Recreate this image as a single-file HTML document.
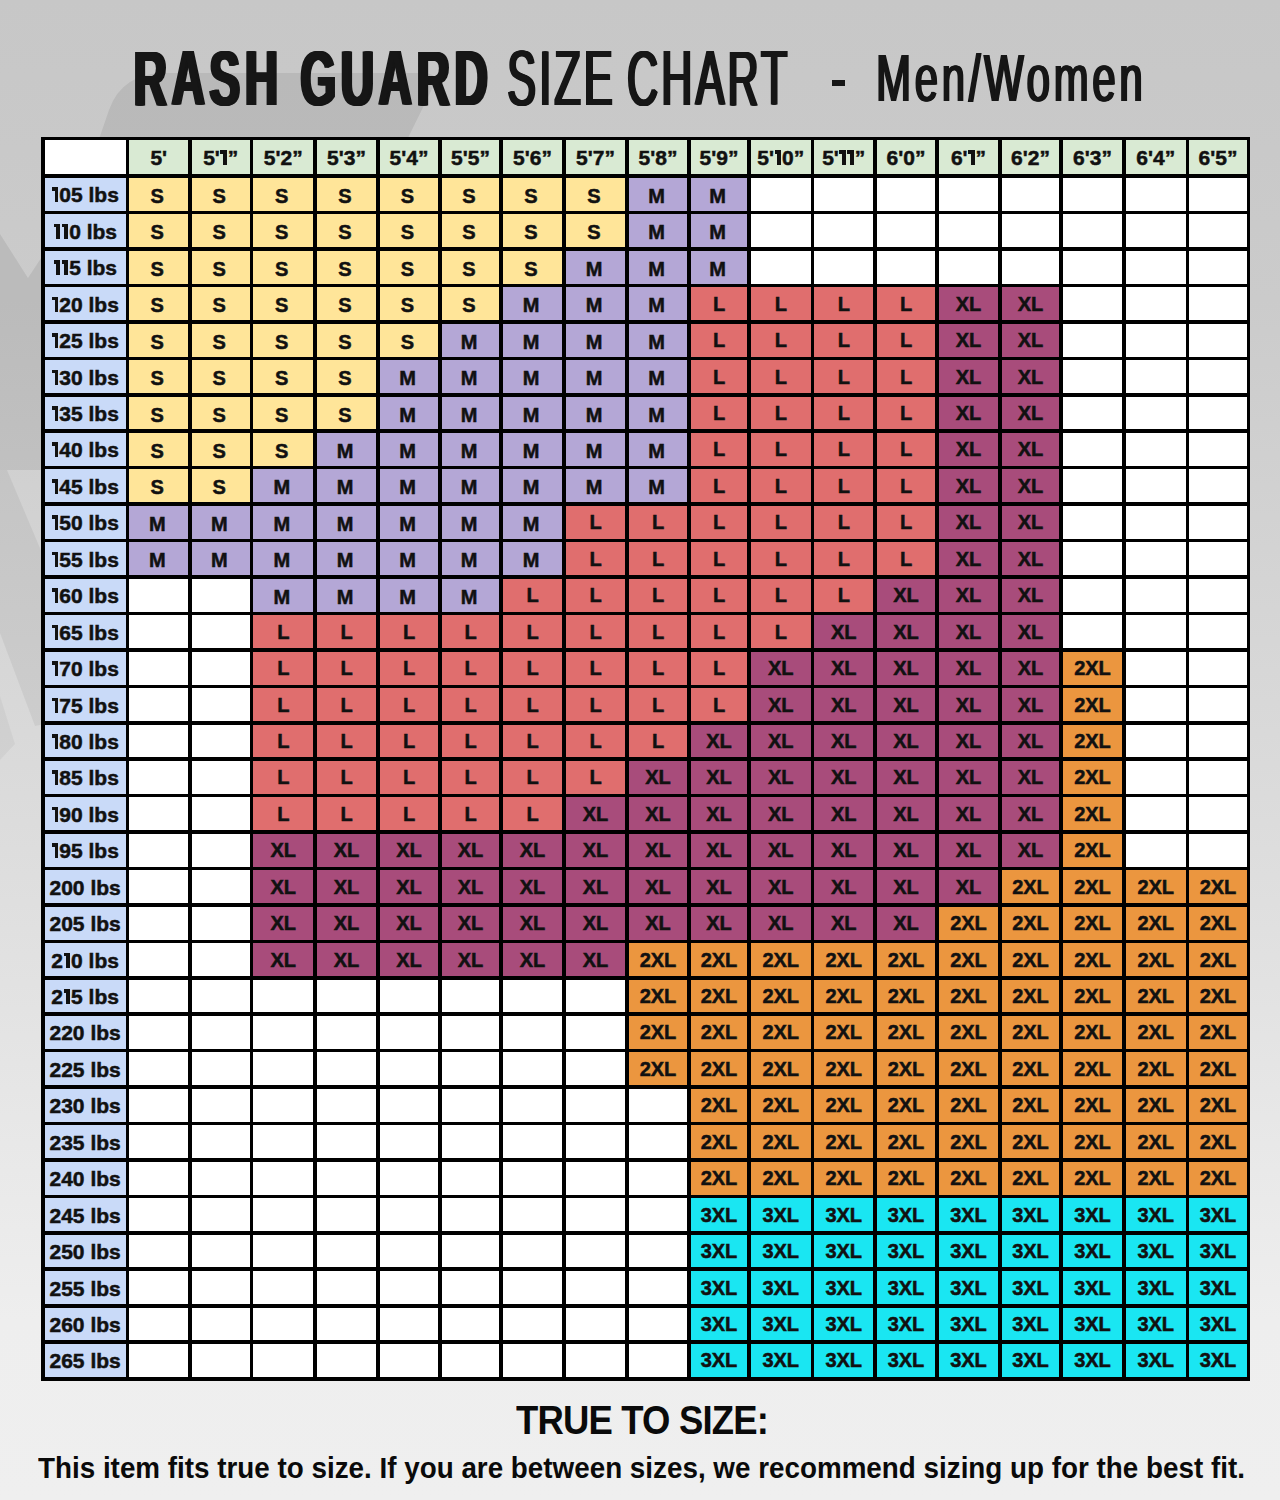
<!DOCTYPE html>
<html><head><meta charset="utf-8">
<style>
html,body{margin:0;padding:0;}
body{width:1280px;height:1500px;overflow:hidden;position:relative;
 background:linear-gradient(to bottom,#c7c7c7 0%,#cbcbcb 20%,#dbdbdb 53%,#e9e9e9 78%,#eeeeee 88%,#efefef 100%);
 font-family:"Liberation Sans",sans-serif;color:#111;}
.c{position:absolute;box-sizing:border-box;display:flex;align-items:center;justify-content:center;font-weight:bold;white-space:nowrap;}
.h{font-size:21px;padding-top:2px;-webkit-text-stroke:0.5px #111;}
.w{font-size:21px;padding-top:2px;-webkit-text-stroke:0.5px #111;}
.d{font-size:20px;padding-top:1px;-webkit-text-stroke:0.5px #111;}
.sm{padding-right:3px;padding-top:4px !important;}
.one{display:inline-block;width:8px;height:15px;position:relative;vertical-align:baseline;}
.one::before{content:"";position:absolute;right:1px;top:0;bottom:0;width:3.8px;background:#111;}
.one::after{content:"";position:absolute;right:4.5px;top:0;width:3px;height:3.6px;background:#111;}
.lv{position:absolute;width:3.6px;background:#000;}
.lh{position:absolute;height:3.6px;background:#000;}
.t{position:absolute;white-space:nowrap;line-height:1;transform-origin:0 0;}
</style></head><body>
<svg id="wm" width="1280" height="1500" style="position:absolute;left:0;top:0">
<path d="M98,142 L109,110 Q122,73 165,73 L422,73 Q440,73 433,87 L406,142 Z" fill="#000" fill-opacity="0.075"/>
<path d="M0,234 L28,278 L45,252 L45,470 L0,470 Z" fill="#000" fill-opacity="0.075"/>
<path d="M0,470 L7,470 L45,560 L45,724 L35,726 L0,633 Z" fill="#000" fill-opacity="0.055"/>
<path d="M0,696 L15,744 L0,760 Z" fill="#000" fill-opacity="0.04"/>
</svg>
<div class="t" id="t1" style="left:131.5px;top:40px;font-size:77px;font-weight:bold;color:#161616;letter-spacing:8.2px;transform:scaleX(0.594);text-shadow:1.5px 0 0 #161616,3px 0 0 #161616,4.5px 0 0 #161616,6px 0 0 #161616">RASH GUARD</div>
<div class="t" id="t2" style="left:506px;top:40px;font-size:77px;color:#161616;letter-spacing:6px;word-spacing:-7px;transform:scaleX(0.556);text-shadow:1.25px 0 0 #161616,2.5px 0 0 #161616,3.75px 0 0 #161616,5px 0 0 #161616">SIZE CHART</div>
<div class="t" id="t3" style="left:832px;top:80px;width:13px;height:6px;background:#161616"></div>
<div class="t" id="t4" style="left:874.5px;top:43.5px;font-size:67px;color:#161616;letter-spacing:6px;transform:scaleX(0.625);text-shadow:1.25px 0 0 #161616,2.5px 0 0 #161616,3.5px 0 0 #161616">Men/Women</div>
<div class="c" style="left:42.75px;top:138.7px;width:84.75px;height:37.5px;background:#ffffff"></div>
<div class="c h" style="left:127.5px;top:138.7px;width:62.5px;height:37.5px;background:#d9ead3"><span>5'</span></div>
<div class="c h" style="left:190px;top:138.7px;width:61.5px;height:37.5px;background:#d9ead3"><span>5'<i class="one"></i>”</span></div>
<div class="c h" style="left:251.5px;top:138.7px;width:63.5px;height:37.5px;background:#d9ead3"><span>5'2”</span></div>
<div class="c h" style="left:315px;top:138.7px;width:63px;height:37.5px;background:#d9ead3"><span>5'3”</span></div>
<div class="c h" style="left:378px;top:138.7px;width:62px;height:37.5px;background:#d9ead3"><span>5'4”</span></div>
<div class="c h" style="left:440px;top:138.7px;width:61px;height:37.5px;background:#d9ead3"><span>5'5”</span></div>
<div class="c h" style="left:501px;top:138.7px;width:63px;height:37.5px;background:#d9ead3"><span>5'6”</span></div>
<div class="c h" style="left:564px;top:138.7px;width:63px;height:37.5px;background:#d9ead3"><span>5'7”</span></div>
<div class="c h" style="left:627px;top:138.7px;width:62px;height:37.5px;background:#d9ead3"><span>5'8”</span></div>
<div class="c h" style="left:689px;top:138.7px;width:60px;height:37.5px;background:#d9ead3"><span>5'9”</span></div>
<div class="c h" style="left:749px;top:138.7px;width:63.5px;height:37.5px;background:#d9ead3"><span>5'<i class="one"></i>0”</span></div>
<div class="c h" style="left:812.5px;top:138.7px;width:62.5px;height:37.5px;background:#d9ead3"><span>5'<i class="one"></i><i class="one"></i>”</span></div>
<div class="c h" style="left:875px;top:138.7px;width:62px;height:37.5px;background:#d9ead3"><span>6'0”</span></div>
<div class="c h" style="left:937px;top:138.7px;width:63px;height:37.5px;background:#d9ead3"><span>6'<i class="one"></i>”</span></div>
<div class="c h" style="left:1000px;top:138.7px;width:61px;height:37.5px;background:#d9ead3"><span>6'2”</span></div>
<div class="c h" style="left:1061px;top:138.7px;width:63px;height:37.5px;background:#d9ead3"><span>6'3”</span></div>
<div class="c h" style="left:1124px;top:138.7px;width:63.5px;height:37.5px;background:#d9ead3"><span>6'4”</span></div>
<div class="c h" style="left:1187.5px;top:138.7px;width:61px;height:37.5px;background:#d9ead3"><span>6'5”</span></div>
<div class="c w" style="left:42.75px;top:176.2px;width:84.75px;height:36.44px;background:#c9daf8"><span><i class="one"></i>05 lbs</span></div>
<div class="c d sm" style="left:127.5px;top:176.2px;width:62.5px;height:36.44px;background:#ffe599"><span>S</span></div>
<div class="c d sm" style="left:190px;top:176.2px;width:61.5px;height:36.44px;background:#ffe599"><span>S</span></div>
<div class="c d sm" style="left:251.5px;top:176.2px;width:63.5px;height:36.44px;background:#ffe599"><span>S</span></div>
<div class="c d sm" style="left:315px;top:176.2px;width:63px;height:36.44px;background:#ffe599"><span>S</span></div>
<div class="c d sm" style="left:378px;top:176.2px;width:62px;height:36.44px;background:#ffe599"><span>S</span></div>
<div class="c d sm" style="left:440px;top:176.2px;width:61px;height:36.44px;background:#ffe599"><span>S</span></div>
<div class="c d sm" style="left:501px;top:176.2px;width:63px;height:36.44px;background:#ffe599"><span>S</span></div>
<div class="c d sm" style="left:564px;top:176.2px;width:63px;height:36.44px;background:#ffe599"><span>S</span></div>
<div class="c d sm" style="left:627px;top:176.2px;width:62px;height:36.44px;background:#b4a7d6"><span>M</span></div>
<div class="c d sm" style="left:689px;top:176.2px;width:60px;height:36.44px;background:#b4a7d6"><span>M</span></div>
<div class="c d" style="left:749px;top:176.2px;width:63.5px;height:36.44px;background:#ffffff"></div>
<div class="c d" style="left:812.5px;top:176.2px;width:62.5px;height:36.44px;background:#ffffff"></div>
<div class="c d" style="left:875px;top:176.2px;width:62px;height:36.44px;background:#ffffff"></div>
<div class="c d" style="left:937px;top:176.2px;width:63px;height:36.44px;background:#ffffff"></div>
<div class="c d" style="left:1000px;top:176.2px;width:61px;height:36.44px;background:#ffffff"></div>
<div class="c d" style="left:1061px;top:176.2px;width:63px;height:36.44px;background:#ffffff"></div>
<div class="c d" style="left:1124px;top:176.2px;width:63.5px;height:36.44px;background:#ffffff"></div>
<div class="c d" style="left:1187.5px;top:176.2px;width:61px;height:36.44px;background:#ffffff"></div>
<div class="c w" style="left:42.75px;top:212.64px;width:84.75px;height:36.44px;background:#c9daf8"><span><i class="one"></i><i class="one"></i>0 lbs</span></div>
<div class="c d sm" style="left:127.5px;top:212.64px;width:62.5px;height:36.44px;background:#ffe599"><span>S</span></div>
<div class="c d sm" style="left:190px;top:212.64px;width:61.5px;height:36.44px;background:#ffe599"><span>S</span></div>
<div class="c d sm" style="left:251.5px;top:212.64px;width:63.5px;height:36.44px;background:#ffe599"><span>S</span></div>
<div class="c d sm" style="left:315px;top:212.64px;width:63px;height:36.44px;background:#ffe599"><span>S</span></div>
<div class="c d sm" style="left:378px;top:212.64px;width:62px;height:36.44px;background:#ffe599"><span>S</span></div>
<div class="c d sm" style="left:440px;top:212.64px;width:61px;height:36.44px;background:#ffe599"><span>S</span></div>
<div class="c d sm" style="left:501px;top:212.64px;width:63px;height:36.44px;background:#ffe599"><span>S</span></div>
<div class="c d sm" style="left:564px;top:212.64px;width:63px;height:36.44px;background:#ffe599"><span>S</span></div>
<div class="c d sm" style="left:627px;top:212.64px;width:62px;height:36.44px;background:#b4a7d6"><span>M</span></div>
<div class="c d sm" style="left:689px;top:212.64px;width:60px;height:36.44px;background:#b4a7d6"><span>M</span></div>
<div class="c d" style="left:749px;top:212.64px;width:63.5px;height:36.44px;background:#ffffff"></div>
<div class="c d" style="left:812.5px;top:212.64px;width:62.5px;height:36.44px;background:#ffffff"></div>
<div class="c d" style="left:875px;top:212.64px;width:62px;height:36.44px;background:#ffffff"></div>
<div class="c d" style="left:937px;top:212.64px;width:63px;height:36.44px;background:#ffffff"></div>
<div class="c d" style="left:1000px;top:212.64px;width:61px;height:36.44px;background:#ffffff"></div>
<div class="c d" style="left:1061px;top:212.64px;width:63px;height:36.44px;background:#ffffff"></div>
<div class="c d" style="left:1124px;top:212.64px;width:63.5px;height:36.44px;background:#ffffff"></div>
<div class="c d" style="left:1187.5px;top:212.64px;width:61px;height:36.44px;background:#ffffff"></div>
<div class="c w" style="left:42.75px;top:249.07px;width:84.75px;height:36.44px;background:#c9daf8"><span><i class="one"></i><i class="one"></i>5 lbs</span></div>
<div class="c d sm" style="left:127.5px;top:249.07px;width:62.5px;height:36.44px;background:#ffe599"><span>S</span></div>
<div class="c d sm" style="left:190px;top:249.07px;width:61.5px;height:36.44px;background:#ffe599"><span>S</span></div>
<div class="c d sm" style="left:251.5px;top:249.07px;width:63.5px;height:36.44px;background:#ffe599"><span>S</span></div>
<div class="c d sm" style="left:315px;top:249.07px;width:63px;height:36.44px;background:#ffe599"><span>S</span></div>
<div class="c d sm" style="left:378px;top:249.07px;width:62px;height:36.44px;background:#ffe599"><span>S</span></div>
<div class="c d sm" style="left:440px;top:249.07px;width:61px;height:36.44px;background:#ffe599"><span>S</span></div>
<div class="c d sm" style="left:501px;top:249.07px;width:63px;height:36.44px;background:#ffe599"><span>S</span></div>
<div class="c d sm" style="left:564px;top:249.07px;width:63px;height:36.44px;background:#b4a7d6"><span>M</span></div>
<div class="c d sm" style="left:627px;top:249.07px;width:62px;height:36.44px;background:#b4a7d6"><span>M</span></div>
<div class="c d sm" style="left:689px;top:249.07px;width:60px;height:36.44px;background:#b4a7d6"><span>M</span></div>
<div class="c d" style="left:749px;top:249.07px;width:63.5px;height:36.44px;background:#ffffff"></div>
<div class="c d" style="left:812.5px;top:249.07px;width:62.5px;height:36.44px;background:#ffffff"></div>
<div class="c d" style="left:875px;top:249.07px;width:62px;height:36.44px;background:#ffffff"></div>
<div class="c d" style="left:937px;top:249.07px;width:63px;height:36.44px;background:#ffffff"></div>
<div class="c d" style="left:1000px;top:249.07px;width:61px;height:36.44px;background:#ffffff"></div>
<div class="c d" style="left:1061px;top:249.07px;width:63px;height:36.44px;background:#ffffff"></div>
<div class="c d" style="left:1124px;top:249.07px;width:63.5px;height:36.44px;background:#ffffff"></div>
<div class="c d" style="left:1187.5px;top:249.07px;width:61px;height:36.44px;background:#ffffff"></div>
<div class="c w" style="left:42.75px;top:285.51px;width:84.75px;height:36.44px;background:#c9daf8"><span><i class="one"></i>20 lbs</span></div>
<div class="c d sm" style="left:127.5px;top:285.51px;width:62.5px;height:36.44px;background:#ffe599"><span>S</span></div>
<div class="c d sm" style="left:190px;top:285.51px;width:61.5px;height:36.44px;background:#ffe599"><span>S</span></div>
<div class="c d sm" style="left:251.5px;top:285.51px;width:63.5px;height:36.44px;background:#ffe599"><span>S</span></div>
<div class="c d sm" style="left:315px;top:285.51px;width:63px;height:36.44px;background:#ffe599"><span>S</span></div>
<div class="c d sm" style="left:378px;top:285.51px;width:62px;height:36.44px;background:#ffe599"><span>S</span></div>
<div class="c d sm" style="left:440px;top:285.51px;width:61px;height:36.44px;background:#ffe599"><span>S</span></div>
<div class="c d sm" style="left:501px;top:285.51px;width:63px;height:36.44px;background:#b4a7d6"><span>M</span></div>
<div class="c d sm" style="left:564px;top:285.51px;width:63px;height:36.44px;background:#b4a7d6"><span>M</span></div>
<div class="c d sm" style="left:627px;top:285.51px;width:62px;height:36.44px;background:#b4a7d6"><span>M</span></div>
<div class="c d" style="left:689px;top:285.51px;width:60px;height:36.44px;background:#e06e6e"><span>L</span></div>
<div class="c d" style="left:749px;top:285.51px;width:63.5px;height:36.44px;background:#e06e6e"><span>L</span></div>
<div class="c d" style="left:812.5px;top:285.51px;width:62.5px;height:36.44px;background:#e06e6e"><span>L</span></div>
<div class="c d" style="left:875px;top:285.51px;width:62px;height:36.44px;background:#e06e6e"><span>L</span></div>
<div class="c d" style="left:937px;top:285.51px;width:63px;height:36.44px;background:#a84c7b"><span>XL</span></div>
<div class="c d" style="left:1000px;top:285.51px;width:61px;height:36.44px;background:#a84c7b"><span>XL</span></div>
<div class="c d" style="left:1061px;top:285.51px;width:63px;height:36.44px;background:#ffffff"></div>
<div class="c d" style="left:1124px;top:285.51px;width:63.5px;height:36.44px;background:#ffffff"></div>
<div class="c d" style="left:1187.5px;top:285.51px;width:61px;height:36.44px;background:#ffffff"></div>
<div class="c w" style="left:42.75px;top:321.95px;width:84.75px;height:36.44px;background:#c9daf8"><span><i class="one"></i>25 lbs</span></div>
<div class="c d sm" style="left:127.5px;top:321.95px;width:62.5px;height:36.44px;background:#ffe599"><span>S</span></div>
<div class="c d sm" style="left:190px;top:321.95px;width:61.5px;height:36.44px;background:#ffe599"><span>S</span></div>
<div class="c d sm" style="left:251.5px;top:321.95px;width:63.5px;height:36.44px;background:#ffe599"><span>S</span></div>
<div class="c d sm" style="left:315px;top:321.95px;width:63px;height:36.44px;background:#ffe599"><span>S</span></div>
<div class="c d sm" style="left:378px;top:321.95px;width:62px;height:36.44px;background:#ffe599"><span>S</span></div>
<div class="c d sm" style="left:440px;top:321.95px;width:61px;height:36.44px;background:#b4a7d6"><span>M</span></div>
<div class="c d sm" style="left:501px;top:321.95px;width:63px;height:36.44px;background:#b4a7d6"><span>M</span></div>
<div class="c d sm" style="left:564px;top:321.95px;width:63px;height:36.44px;background:#b4a7d6"><span>M</span></div>
<div class="c d sm" style="left:627px;top:321.95px;width:62px;height:36.44px;background:#b4a7d6"><span>M</span></div>
<div class="c d" style="left:689px;top:321.95px;width:60px;height:36.44px;background:#e06e6e"><span>L</span></div>
<div class="c d" style="left:749px;top:321.95px;width:63.5px;height:36.44px;background:#e06e6e"><span>L</span></div>
<div class="c d" style="left:812.5px;top:321.95px;width:62.5px;height:36.44px;background:#e06e6e"><span>L</span></div>
<div class="c d" style="left:875px;top:321.95px;width:62px;height:36.44px;background:#e06e6e"><span>L</span></div>
<div class="c d" style="left:937px;top:321.95px;width:63px;height:36.44px;background:#a84c7b"><span>XL</span></div>
<div class="c d" style="left:1000px;top:321.95px;width:61px;height:36.44px;background:#a84c7b"><span>XL</span></div>
<div class="c d" style="left:1061px;top:321.95px;width:63px;height:36.44px;background:#ffffff"></div>
<div class="c d" style="left:1124px;top:321.95px;width:63.5px;height:36.44px;background:#ffffff"></div>
<div class="c d" style="left:1187.5px;top:321.95px;width:61px;height:36.44px;background:#ffffff"></div>
<div class="c w" style="left:42.75px;top:358.38px;width:84.75px;height:36.44px;background:#c9daf8"><span><i class="one"></i>30 lbs</span></div>
<div class="c d sm" style="left:127.5px;top:358.38px;width:62.5px;height:36.44px;background:#ffe599"><span>S</span></div>
<div class="c d sm" style="left:190px;top:358.38px;width:61.5px;height:36.44px;background:#ffe599"><span>S</span></div>
<div class="c d sm" style="left:251.5px;top:358.38px;width:63.5px;height:36.44px;background:#ffe599"><span>S</span></div>
<div class="c d sm" style="left:315px;top:358.38px;width:63px;height:36.44px;background:#ffe599"><span>S</span></div>
<div class="c d sm" style="left:378px;top:358.38px;width:62px;height:36.44px;background:#b4a7d6"><span>M</span></div>
<div class="c d sm" style="left:440px;top:358.38px;width:61px;height:36.44px;background:#b4a7d6"><span>M</span></div>
<div class="c d sm" style="left:501px;top:358.38px;width:63px;height:36.44px;background:#b4a7d6"><span>M</span></div>
<div class="c d sm" style="left:564px;top:358.38px;width:63px;height:36.44px;background:#b4a7d6"><span>M</span></div>
<div class="c d sm" style="left:627px;top:358.38px;width:62px;height:36.44px;background:#b4a7d6"><span>M</span></div>
<div class="c d" style="left:689px;top:358.38px;width:60px;height:36.44px;background:#e06e6e"><span>L</span></div>
<div class="c d" style="left:749px;top:358.38px;width:63.5px;height:36.44px;background:#e06e6e"><span>L</span></div>
<div class="c d" style="left:812.5px;top:358.38px;width:62.5px;height:36.44px;background:#e06e6e"><span>L</span></div>
<div class="c d" style="left:875px;top:358.38px;width:62px;height:36.44px;background:#e06e6e"><span>L</span></div>
<div class="c d" style="left:937px;top:358.38px;width:63px;height:36.44px;background:#a84c7b"><span>XL</span></div>
<div class="c d" style="left:1000px;top:358.38px;width:61px;height:36.44px;background:#a84c7b"><span>XL</span></div>
<div class="c d" style="left:1061px;top:358.38px;width:63px;height:36.44px;background:#ffffff"></div>
<div class="c d" style="left:1124px;top:358.38px;width:63.5px;height:36.44px;background:#ffffff"></div>
<div class="c d" style="left:1187.5px;top:358.38px;width:61px;height:36.44px;background:#ffffff"></div>
<div class="c w" style="left:42.75px;top:394.82px;width:84.75px;height:36.44px;background:#c9daf8"><span><i class="one"></i>35 lbs</span></div>
<div class="c d sm" style="left:127.5px;top:394.82px;width:62.5px;height:36.44px;background:#ffe599"><span>S</span></div>
<div class="c d sm" style="left:190px;top:394.82px;width:61.5px;height:36.44px;background:#ffe599"><span>S</span></div>
<div class="c d sm" style="left:251.5px;top:394.82px;width:63.5px;height:36.44px;background:#ffe599"><span>S</span></div>
<div class="c d sm" style="left:315px;top:394.82px;width:63px;height:36.44px;background:#ffe599"><span>S</span></div>
<div class="c d sm" style="left:378px;top:394.82px;width:62px;height:36.44px;background:#b4a7d6"><span>M</span></div>
<div class="c d sm" style="left:440px;top:394.82px;width:61px;height:36.44px;background:#b4a7d6"><span>M</span></div>
<div class="c d sm" style="left:501px;top:394.82px;width:63px;height:36.44px;background:#b4a7d6"><span>M</span></div>
<div class="c d sm" style="left:564px;top:394.82px;width:63px;height:36.44px;background:#b4a7d6"><span>M</span></div>
<div class="c d sm" style="left:627px;top:394.82px;width:62px;height:36.44px;background:#b4a7d6"><span>M</span></div>
<div class="c d" style="left:689px;top:394.82px;width:60px;height:36.44px;background:#e06e6e"><span>L</span></div>
<div class="c d" style="left:749px;top:394.82px;width:63.5px;height:36.44px;background:#e06e6e"><span>L</span></div>
<div class="c d" style="left:812.5px;top:394.82px;width:62.5px;height:36.44px;background:#e06e6e"><span>L</span></div>
<div class="c d" style="left:875px;top:394.82px;width:62px;height:36.44px;background:#e06e6e"><span>L</span></div>
<div class="c d" style="left:937px;top:394.82px;width:63px;height:36.44px;background:#a84c7b"><span>XL</span></div>
<div class="c d" style="left:1000px;top:394.82px;width:61px;height:36.44px;background:#a84c7b"><span>XL</span></div>
<div class="c d" style="left:1061px;top:394.82px;width:63px;height:36.44px;background:#ffffff"></div>
<div class="c d" style="left:1124px;top:394.82px;width:63.5px;height:36.44px;background:#ffffff"></div>
<div class="c d" style="left:1187.5px;top:394.82px;width:61px;height:36.44px;background:#ffffff"></div>
<div class="c w" style="left:42.75px;top:431.25px;width:84.75px;height:36.44px;background:#c9daf8"><span><i class="one"></i>40 lbs</span></div>
<div class="c d sm" style="left:127.5px;top:431.25px;width:62.5px;height:36.44px;background:#ffe599"><span>S</span></div>
<div class="c d sm" style="left:190px;top:431.25px;width:61.5px;height:36.44px;background:#ffe599"><span>S</span></div>
<div class="c d sm" style="left:251.5px;top:431.25px;width:63.5px;height:36.44px;background:#ffe599"><span>S</span></div>
<div class="c d sm" style="left:315px;top:431.25px;width:63px;height:36.44px;background:#b4a7d6"><span>M</span></div>
<div class="c d sm" style="left:378px;top:431.25px;width:62px;height:36.44px;background:#b4a7d6"><span>M</span></div>
<div class="c d sm" style="left:440px;top:431.25px;width:61px;height:36.44px;background:#b4a7d6"><span>M</span></div>
<div class="c d sm" style="left:501px;top:431.25px;width:63px;height:36.44px;background:#b4a7d6"><span>M</span></div>
<div class="c d sm" style="left:564px;top:431.25px;width:63px;height:36.44px;background:#b4a7d6"><span>M</span></div>
<div class="c d sm" style="left:627px;top:431.25px;width:62px;height:36.44px;background:#b4a7d6"><span>M</span></div>
<div class="c d" style="left:689px;top:431.25px;width:60px;height:36.44px;background:#e06e6e"><span>L</span></div>
<div class="c d" style="left:749px;top:431.25px;width:63.5px;height:36.44px;background:#e06e6e"><span>L</span></div>
<div class="c d" style="left:812.5px;top:431.25px;width:62.5px;height:36.44px;background:#e06e6e"><span>L</span></div>
<div class="c d" style="left:875px;top:431.25px;width:62px;height:36.44px;background:#e06e6e"><span>L</span></div>
<div class="c d" style="left:937px;top:431.25px;width:63px;height:36.44px;background:#a84c7b"><span>XL</span></div>
<div class="c d" style="left:1000px;top:431.25px;width:61px;height:36.44px;background:#a84c7b"><span>XL</span></div>
<div class="c d" style="left:1061px;top:431.25px;width:63px;height:36.44px;background:#ffffff"></div>
<div class="c d" style="left:1124px;top:431.25px;width:63.5px;height:36.44px;background:#ffffff"></div>
<div class="c d" style="left:1187.5px;top:431.25px;width:61px;height:36.44px;background:#ffffff"></div>
<div class="c w" style="left:42.75px;top:467.69px;width:84.75px;height:36.44px;background:#c9daf8"><span><i class="one"></i>45 lbs</span></div>
<div class="c d sm" style="left:127.5px;top:467.69px;width:62.5px;height:36.44px;background:#ffe599"><span>S</span></div>
<div class="c d sm" style="left:190px;top:467.69px;width:61.5px;height:36.44px;background:#ffe599"><span>S</span></div>
<div class="c d sm" style="left:251.5px;top:467.69px;width:63.5px;height:36.44px;background:#b4a7d6"><span>M</span></div>
<div class="c d sm" style="left:315px;top:467.69px;width:63px;height:36.44px;background:#b4a7d6"><span>M</span></div>
<div class="c d sm" style="left:378px;top:467.69px;width:62px;height:36.44px;background:#b4a7d6"><span>M</span></div>
<div class="c d sm" style="left:440px;top:467.69px;width:61px;height:36.44px;background:#b4a7d6"><span>M</span></div>
<div class="c d sm" style="left:501px;top:467.69px;width:63px;height:36.44px;background:#b4a7d6"><span>M</span></div>
<div class="c d sm" style="left:564px;top:467.69px;width:63px;height:36.44px;background:#b4a7d6"><span>M</span></div>
<div class="c d sm" style="left:627px;top:467.69px;width:62px;height:36.44px;background:#b4a7d6"><span>M</span></div>
<div class="c d" style="left:689px;top:467.69px;width:60px;height:36.44px;background:#e06e6e"><span>L</span></div>
<div class="c d" style="left:749px;top:467.69px;width:63.5px;height:36.44px;background:#e06e6e"><span>L</span></div>
<div class="c d" style="left:812.5px;top:467.69px;width:62.5px;height:36.44px;background:#e06e6e"><span>L</span></div>
<div class="c d" style="left:875px;top:467.69px;width:62px;height:36.44px;background:#e06e6e"><span>L</span></div>
<div class="c d" style="left:937px;top:467.69px;width:63px;height:36.44px;background:#a84c7b"><span>XL</span></div>
<div class="c d" style="left:1000px;top:467.69px;width:61px;height:36.44px;background:#a84c7b"><span>XL</span></div>
<div class="c d" style="left:1061px;top:467.69px;width:63px;height:36.44px;background:#ffffff"></div>
<div class="c d" style="left:1124px;top:467.69px;width:63.5px;height:36.44px;background:#ffffff"></div>
<div class="c d" style="left:1187.5px;top:467.69px;width:61px;height:36.44px;background:#ffffff"></div>
<div class="c w" style="left:42.75px;top:504.13px;width:84.75px;height:36.44px;background:#c9daf8"><span><i class="one"></i>50 lbs</span></div>
<div class="c d sm" style="left:127.5px;top:504.13px;width:62.5px;height:36.44px;background:#b4a7d6"><span>M</span></div>
<div class="c d sm" style="left:190px;top:504.13px;width:61.5px;height:36.44px;background:#b4a7d6"><span>M</span></div>
<div class="c d sm" style="left:251.5px;top:504.13px;width:63.5px;height:36.44px;background:#b4a7d6"><span>M</span></div>
<div class="c d sm" style="left:315px;top:504.13px;width:63px;height:36.44px;background:#b4a7d6"><span>M</span></div>
<div class="c d sm" style="left:378px;top:504.13px;width:62px;height:36.44px;background:#b4a7d6"><span>M</span></div>
<div class="c d sm" style="left:440px;top:504.13px;width:61px;height:36.44px;background:#b4a7d6"><span>M</span></div>
<div class="c d sm" style="left:501px;top:504.13px;width:63px;height:36.44px;background:#b4a7d6"><span>M</span></div>
<div class="c d" style="left:564px;top:504.13px;width:63px;height:36.44px;background:#e06e6e"><span>L</span></div>
<div class="c d" style="left:627px;top:504.13px;width:62px;height:36.44px;background:#e06e6e"><span>L</span></div>
<div class="c d" style="left:689px;top:504.13px;width:60px;height:36.44px;background:#e06e6e"><span>L</span></div>
<div class="c d" style="left:749px;top:504.13px;width:63.5px;height:36.44px;background:#e06e6e"><span>L</span></div>
<div class="c d" style="left:812.5px;top:504.13px;width:62.5px;height:36.44px;background:#e06e6e"><span>L</span></div>
<div class="c d" style="left:875px;top:504.13px;width:62px;height:36.44px;background:#e06e6e"><span>L</span></div>
<div class="c d" style="left:937px;top:504.13px;width:63px;height:36.44px;background:#a84c7b"><span>XL</span></div>
<div class="c d" style="left:1000px;top:504.13px;width:61px;height:36.44px;background:#a84c7b"><span>XL</span></div>
<div class="c d" style="left:1061px;top:504.13px;width:63px;height:36.44px;background:#ffffff"></div>
<div class="c d" style="left:1124px;top:504.13px;width:63.5px;height:36.44px;background:#ffffff"></div>
<div class="c d" style="left:1187.5px;top:504.13px;width:61px;height:36.44px;background:#ffffff"></div>
<div class="c w" style="left:42.75px;top:540.56px;width:84.75px;height:36.44px;background:#c9daf8"><span><i class="one"></i>55 lbs</span></div>
<div class="c d sm" style="left:127.5px;top:540.56px;width:62.5px;height:36.44px;background:#b4a7d6"><span>M</span></div>
<div class="c d sm" style="left:190px;top:540.56px;width:61.5px;height:36.44px;background:#b4a7d6"><span>M</span></div>
<div class="c d sm" style="left:251.5px;top:540.56px;width:63.5px;height:36.44px;background:#b4a7d6"><span>M</span></div>
<div class="c d sm" style="left:315px;top:540.56px;width:63px;height:36.44px;background:#b4a7d6"><span>M</span></div>
<div class="c d sm" style="left:378px;top:540.56px;width:62px;height:36.44px;background:#b4a7d6"><span>M</span></div>
<div class="c d sm" style="left:440px;top:540.56px;width:61px;height:36.44px;background:#b4a7d6"><span>M</span></div>
<div class="c d sm" style="left:501px;top:540.56px;width:63px;height:36.44px;background:#b4a7d6"><span>M</span></div>
<div class="c d" style="left:564px;top:540.56px;width:63px;height:36.44px;background:#e06e6e"><span>L</span></div>
<div class="c d" style="left:627px;top:540.56px;width:62px;height:36.44px;background:#e06e6e"><span>L</span></div>
<div class="c d" style="left:689px;top:540.56px;width:60px;height:36.44px;background:#e06e6e"><span>L</span></div>
<div class="c d" style="left:749px;top:540.56px;width:63.5px;height:36.44px;background:#e06e6e"><span>L</span></div>
<div class="c d" style="left:812.5px;top:540.56px;width:62.5px;height:36.44px;background:#e06e6e"><span>L</span></div>
<div class="c d" style="left:875px;top:540.56px;width:62px;height:36.44px;background:#e06e6e"><span>L</span></div>
<div class="c d" style="left:937px;top:540.56px;width:63px;height:36.44px;background:#a84c7b"><span>XL</span></div>
<div class="c d" style="left:1000px;top:540.56px;width:61px;height:36.44px;background:#a84c7b"><span>XL</span></div>
<div class="c d" style="left:1061px;top:540.56px;width:63px;height:36.44px;background:#ffffff"></div>
<div class="c d" style="left:1124px;top:540.56px;width:63.5px;height:36.44px;background:#ffffff"></div>
<div class="c d" style="left:1187.5px;top:540.56px;width:61px;height:36.44px;background:#ffffff"></div>
<div class="c w" style="left:42.75px;top:577px;width:84.75px;height:36.44px;background:#c9daf8"><span><i class="one"></i>60 lbs</span></div>
<div class="c d" style="left:127.5px;top:577px;width:62.5px;height:36.44px;background:#ffffff"></div>
<div class="c d" style="left:190px;top:577px;width:61.5px;height:36.44px;background:#ffffff"></div>
<div class="c d sm" style="left:251.5px;top:577px;width:63.5px;height:36.44px;background:#b4a7d6"><span>M</span></div>
<div class="c d sm" style="left:315px;top:577px;width:63px;height:36.44px;background:#b4a7d6"><span>M</span></div>
<div class="c d sm" style="left:378px;top:577px;width:62px;height:36.44px;background:#b4a7d6"><span>M</span></div>
<div class="c d sm" style="left:440px;top:577px;width:61px;height:36.44px;background:#b4a7d6"><span>M</span></div>
<div class="c d" style="left:501px;top:577px;width:63px;height:36.44px;background:#e06e6e"><span>L</span></div>
<div class="c d" style="left:564px;top:577px;width:63px;height:36.44px;background:#e06e6e"><span>L</span></div>
<div class="c d" style="left:627px;top:577px;width:62px;height:36.44px;background:#e06e6e"><span>L</span></div>
<div class="c d" style="left:689px;top:577px;width:60px;height:36.44px;background:#e06e6e"><span>L</span></div>
<div class="c d" style="left:749px;top:577px;width:63.5px;height:36.44px;background:#e06e6e"><span>L</span></div>
<div class="c d" style="left:812.5px;top:577px;width:62.5px;height:36.44px;background:#e06e6e"><span>L</span></div>
<div class="c d" style="left:875px;top:577px;width:62px;height:36.44px;background:#a84c7b"><span>XL</span></div>
<div class="c d" style="left:937px;top:577px;width:63px;height:36.44px;background:#a84c7b"><span>XL</span></div>
<div class="c d" style="left:1000px;top:577px;width:61px;height:36.44px;background:#a84c7b"><span>XL</span></div>
<div class="c d" style="left:1061px;top:577px;width:63px;height:36.44px;background:#ffffff"></div>
<div class="c d" style="left:1124px;top:577px;width:63.5px;height:36.44px;background:#ffffff"></div>
<div class="c d" style="left:1187.5px;top:577px;width:61px;height:36.44px;background:#ffffff"></div>
<div class="c w" style="left:42.75px;top:613.44px;width:84.75px;height:36.44px;background:#c9daf8"><span><i class="one"></i>65 lbs</span></div>
<div class="c d" style="left:127.5px;top:613.44px;width:62.5px;height:36.44px;background:#ffffff"></div>
<div class="c d" style="left:190px;top:613.44px;width:61.5px;height:36.44px;background:#ffffff"></div>
<div class="c d" style="left:251.5px;top:613.44px;width:63.5px;height:36.44px;background:#e06e6e"><span>L</span></div>
<div class="c d" style="left:315px;top:613.44px;width:63px;height:36.44px;background:#e06e6e"><span>L</span></div>
<div class="c d" style="left:378px;top:613.44px;width:62px;height:36.44px;background:#e06e6e"><span>L</span></div>
<div class="c d" style="left:440px;top:613.44px;width:61px;height:36.44px;background:#e06e6e"><span>L</span></div>
<div class="c d" style="left:501px;top:613.44px;width:63px;height:36.44px;background:#e06e6e"><span>L</span></div>
<div class="c d" style="left:564px;top:613.44px;width:63px;height:36.44px;background:#e06e6e"><span>L</span></div>
<div class="c d" style="left:627px;top:613.44px;width:62px;height:36.44px;background:#e06e6e"><span>L</span></div>
<div class="c d" style="left:689px;top:613.44px;width:60px;height:36.44px;background:#e06e6e"><span>L</span></div>
<div class="c d" style="left:749px;top:613.44px;width:63.5px;height:36.44px;background:#e06e6e"><span>L</span></div>
<div class="c d" style="left:812.5px;top:613.44px;width:62.5px;height:36.44px;background:#a84c7b"><span>XL</span></div>
<div class="c d" style="left:875px;top:613.44px;width:62px;height:36.44px;background:#a84c7b"><span>XL</span></div>
<div class="c d" style="left:937px;top:613.44px;width:63px;height:36.44px;background:#a84c7b"><span>XL</span></div>
<div class="c d" style="left:1000px;top:613.44px;width:61px;height:36.44px;background:#a84c7b"><span>XL</span></div>
<div class="c d" style="left:1061px;top:613.44px;width:63px;height:36.44px;background:#ffffff"></div>
<div class="c d" style="left:1124px;top:613.44px;width:63.5px;height:36.44px;background:#ffffff"></div>
<div class="c d" style="left:1187.5px;top:613.44px;width:61px;height:36.44px;background:#ffffff"></div>
<div class="c w" style="left:42.75px;top:649.87px;width:84.75px;height:36.44px;background:#c9daf8"><span><i class="one"></i>70 lbs</span></div>
<div class="c d" style="left:127.5px;top:649.87px;width:62.5px;height:36.44px;background:#ffffff"></div>
<div class="c d" style="left:190px;top:649.87px;width:61.5px;height:36.44px;background:#ffffff"></div>
<div class="c d" style="left:251.5px;top:649.87px;width:63.5px;height:36.44px;background:#e06e6e"><span>L</span></div>
<div class="c d" style="left:315px;top:649.87px;width:63px;height:36.44px;background:#e06e6e"><span>L</span></div>
<div class="c d" style="left:378px;top:649.87px;width:62px;height:36.44px;background:#e06e6e"><span>L</span></div>
<div class="c d" style="left:440px;top:649.87px;width:61px;height:36.44px;background:#e06e6e"><span>L</span></div>
<div class="c d" style="left:501px;top:649.87px;width:63px;height:36.44px;background:#e06e6e"><span>L</span></div>
<div class="c d" style="left:564px;top:649.87px;width:63px;height:36.44px;background:#e06e6e"><span>L</span></div>
<div class="c d" style="left:627px;top:649.87px;width:62px;height:36.44px;background:#e06e6e"><span>L</span></div>
<div class="c d" style="left:689px;top:649.87px;width:60px;height:36.44px;background:#e06e6e"><span>L</span></div>
<div class="c d" style="left:749px;top:649.87px;width:63.5px;height:36.44px;background:#a84c7b"><span>XL</span></div>
<div class="c d" style="left:812.5px;top:649.87px;width:62.5px;height:36.44px;background:#a84c7b"><span>XL</span></div>
<div class="c d" style="left:875px;top:649.87px;width:62px;height:36.44px;background:#a84c7b"><span>XL</span></div>
<div class="c d" style="left:937px;top:649.87px;width:63px;height:36.44px;background:#a84c7b"><span>XL</span></div>
<div class="c d" style="left:1000px;top:649.87px;width:61px;height:36.44px;background:#a84c7b"><span>XL</span></div>
<div class="c d" style="left:1061px;top:649.87px;width:63px;height:36.44px;background:#eb963f"><span>2XL</span></div>
<div class="c d" style="left:1124px;top:649.87px;width:63.5px;height:36.44px;background:#ffffff"></div>
<div class="c d" style="left:1187.5px;top:649.87px;width:61px;height:36.44px;background:#ffffff"></div>
<div class="c w" style="left:42.75px;top:686.31px;width:84.75px;height:36.44px;background:#c9daf8"><span><i class="one"></i>75 lbs</span></div>
<div class="c d" style="left:127.5px;top:686.31px;width:62.5px;height:36.44px;background:#ffffff"></div>
<div class="c d" style="left:190px;top:686.31px;width:61.5px;height:36.44px;background:#ffffff"></div>
<div class="c d" style="left:251.5px;top:686.31px;width:63.5px;height:36.44px;background:#e06e6e"><span>L</span></div>
<div class="c d" style="left:315px;top:686.31px;width:63px;height:36.44px;background:#e06e6e"><span>L</span></div>
<div class="c d" style="left:378px;top:686.31px;width:62px;height:36.44px;background:#e06e6e"><span>L</span></div>
<div class="c d" style="left:440px;top:686.31px;width:61px;height:36.44px;background:#e06e6e"><span>L</span></div>
<div class="c d" style="left:501px;top:686.31px;width:63px;height:36.44px;background:#e06e6e"><span>L</span></div>
<div class="c d" style="left:564px;top:686.31px;width:63px;height:36.44px;background:#e06e6e"><span>L</span></div>
<div class="c d" style="left:627px;top:686.31px;width:62px;height:36.44px;background:#e06e6e"><span>L</span></div>
<div class="c d" style="left:689px;top:686.31px;width:60px;height:36.44px;background:#e06e6e"><span>L</span></div>
<div class="c d" style="left:749px;top:686.31px;width:63.5px;height:36.44px;background:#a84c7b"><span>XL</span></div>
<div class="c d" style="left:812.5px;top:686.31px;width:62.5px;height:36.44px;background:#a84c7b"><span>XL</span></div>
<div class="c d" style="left:875px;top:686.31px;width:62px;height:36.44px;background:#a84c7b"><span>XL</span></div>
<div class="c d" style="left:937px;top:686.31px;width:63px;height:36.44px;background:#a84c7b"><span>XL</span></div>
<div class="c d" style="left:1000px;top:686.31px;width:61px;height:36.44px;background:#a84c7b"><span>XL</span></div>
<div class="c d" style="left:1061px;top:686.31px;width:63px;height:36.44px;background:#eb963f"><span>2XL</span></div>
<div class="c d" style="left:1124px;top:686.31px;width:63.5px;height:36.44px;background:#ffffff"></div>
<div class="c d" style="left:1187.5px;top:686.31px;width:61px;height:36.44px;background:#ffffff"></div>
<div class="c w" style="left:42.75px;top:722.75px;width:84.75px;height:36.44px;background:#c9daf8"><span><i class="one"></i>80 lbs</span></div>
<div class="c d" style="left:127.5px;top:722.75px;width:62.5px;height:36.44px;background:#ffffff"></div>
<div class="c d" style="left:190px;top:722.75px;width:61.5px;height:36.44px;background:#ffffff"></div>
<div class="c d" style="left:251.5px;top:722.75px;width:63.5px;height:36.44px;background:#e06e6e"><span>L</span></div>
<div class="c d" style="left:315px;top:722.75px;width:63px;height:36.44px;background:#e06e6e"><span>L</span></div>
<div class="c d" style="left:378px;top:722.75px;width:62px;height:36.44px;background:#e06e6e"><span>L</span></div>
<div class="c d" style="left:440px;top:722.75px;width:61px;height:36.44px;background:#e06e6e"><span>L</span></div>
<div class="c d" style="left:501px;top:722.75px;width:63px;height:36.44px;background:#e06e6e"><span>L</span></div>
<div class="c d" style="left:564px;top:722.75px;width:63px;height:36.44px;background:#e06e6e"><span>L</span></div>
<div class="c d" style="left:627px;top:722.75px;width:62px;height:36.44px;background:#e06e6e"><span>L</span></div>
<div class="c d" style="left:689px;top:722.75px;width:60px;height:36.44px;background:#a84c7b"><span>XL</span></div>
<div class="c d" style="left:749px;top:722.75px;width:63.5px;height:36.44px;background:#a84c7b"><span>XL</span></div>
<div class="c d" style="left:812.5px;top:722.75px;width:62.5px;height:36.44px;background:#a84c7b"><span>XL</span></div>
<div class="c d" style="left:875px;top:722.75px;width:62px;height:36.44px;background:#a84c7b"><span>XL</span></div>
<div class="c d" style="left:937px;top:722.75px;width:63px;height:36.44px;background:#a84c7b"><span>XL</span></div>
<div class="c d" style="left:1000px;top:722.75px;width:61px;height:36.44px;background:#a84c7b"><span>XL</span></div>
<div class="c d" style="left:1061px;top:722.75px;width:63px;height:36.44px;background:#eb963f"><span>2XL</span></div>
<div class="c d" style="left:1124px;top:722.75px;width:63.5px;height:36.44px;background:#ffffff"></div>
<div class="c d" style="left:1187.5px;top:722.75px;width:61px;height:36.44px;background:#ffffff"></div>
<div class="c w" style="left:42.75px;top:759.18px;width:84.75px;height:36.44px;background:#c9daf8"><span><i class="one"></i>85 lbs</span></div>
<div class="c d" style="left:127.5px;top:759.18px;width:62.5px;height:36.44px;background:#ffffff"></div>
<div class="c d" style="left:190px;top:759.18px;width:61.5px;height:36.44px;background:#ffffff"></div>
<div class="c d" style="left:251.5px;top:759.18px;width:63.5px;height:36.44px;background:#e06e6e"><span>L</span></div>
<div class="c d" style="left:315px;top:759.18px;width:63px;height:36.44px;background:#e06e6e"><span>L</span></div>
<div class="c d" style="left:378px;top:759.18px;width:62px;height:36.44px;background:#e06e6e"><span>L</span></div>
<div class="c d" style="left:440px;top:759.18px;width:61px;height:36.44px;background:#e06e6e"><span>L</span></div>
<div class="c d" style="left:501px;top:759.18px;width:63px;height:36.44px;background:#e06e6e"><span>L</span></div>
<div class="c d" style="left:564px;top:759.18px;width:63px;height:36.44px;background:#e06e6e"><span>L</span></div>
<div class="c d" style="left:627px;top:759.18px;width:62px;height:36.44px;background:#a84c7b"><span>XL</span></div>
<div class="c d" style="left:689px;top:759.18px;width:60px;height:36.44px;background:#a84c7b"><span>XL</span></div>
<div class="c d" style="left:749px;top:759.18px;width:63.5px;height:36.44px;background:#a84c7b"><span>XL</span></div>
<div class="c d" style="left:812.5px;top:759.18px;width:62.5px;height:36.44px;background:#a84c7b"><span>XL</span></div>
<div class="c d" style="left:875px;top:759.18px;width:62px;height:36.44px;background:#a84c7b"><span>XL</span></div>
<div class="c d" style="left:937px;top:759.18px;width:63px;height:36.44px;background:#a84c7b"><span>XL</span></div>
<div class="c d" style="left:1000px;top:759.18px;width:61px;height:36.44px;background:#a84c7b"><span>XL</span></div>
<div class="c d" style="left:1061px;top:759.18px;width:63px;height:36.44px;background:#eb963f"><span>2XL</span></div>
<div class="c d" style="left:1124px;top:759.18px;width:63.5px;height:36.44px;background:#ffffff"></div>
<div class="c d" style="left:1187.5px;top:759.18px;width:61px;height:36.44px;background:#ffffff"></div>
<div class="c w" style="left:42.75px;top:795.62px;width:84.75px;height:36.44px;background:#c9daf8"><span><i class="one"></i>90 lbs</span></div>
<div class="c d" style="left:127.5px;top:795.62px;width:62.5px;height:36.44px;background:#ffffff"></div>
<div class="c d" style="left:190px;top:795.62px;width:61.5px;height:36.44px;background:#ffffff"></div>
<div class="c d" style="left:251.5px;top:795.62px;width:63.5px;height:36.44px;background:#e06e6e"><span>L</span></div>
<div class="c d" style="left:315px;top:795.62px;width:63px;height:36.44px;background:#e06e6e"><span>L</span></div>
<div class="c d" style="left:378px;top:795.62px;width:62px;height:36.44px;background:#e06e6e"><span>L</span></div>
<div class="c d" style="left:440px;top:795.62px;width:61px;height:36.44px;background:#e06e6e"><span>L</span></div>
<div class="c d" style="left:501px;top:795.62px;width:63px;height:36.44px;background:#e06e6e"><span>L</span></div>
<div class="c d" style="left:564px;top:795.62px;width:63px;height:36.44px;background:#a84c7b"><span>XL</span></div>
<div class="c d" style="left:627px;top:795.62px;width:62px;height:36.44px;background:#a84c7b"><span>XL</span></div>
<div class="c d" style="left:689px;top:795.62px;width:60px;height:36.44px;background:#a84c7b"><span>XL</span></div>
<div class="c d" style="left:749px;top:795.62px;width:63.5px;height:36.44px;background:#a84c7b"><span>XL</span></div>
<div class="c d" style="left:812.5px;top:795.62px;width:62.5px;height:36.44px;background:#a84c7b"><span>XL</span></div>
<div class="c d" style="left:875px;top:795.62px;width:62px;height:36.44px;background:#a84c7b"><span>XL</span></div>
<div class="c d" style="left:937px;top:795.62px;width:63px;height:36.44px;background:#a84c7b"><span>XL</span></div>
<div class="c d" style="left:1000px;top:795.62px;width:61px;height:36.44px;background:#a84c7b"><span>XL</span></div>
<div class="c d" style="left:1061px;top:795.62px;width:63px;height:36.44px;background:#eb963f"><span>2XL</span></div>
<div class="c d" style="left:1124px;top:795.62px;width:63.5px;height:36.44px;background:#ffffff"></div>
<div class="c d" style="left:1187.5px;top:795.62px;width:61px;height:36.44px;background:#ffffff"></div>
<div class="c w" style="left:42.75px;top:832.05px;width:84.75px;height:36.44px;background:#c9daf8"><span><i class="one"></i>95 lbs</span></div>
<div class="c d" style="left:127.5px;top:832.05px;width:62.5px;height:36.44px;background:#ffffff"></div>
<div class="c d" style="left:190px;top:832.05px;width:61.5px;height:36.44px;background:#ffffff"></div>
<div class="c d" style="left:251.5px;top:832.05px;width:63.5px;height:36.44px;background:#a84c7b"><span>XL</span></div>
<div class="c d" style="left:315px;top:832.05px;width:63px;height:36.44px;background:#a84c7b"><span>XL</span></div>
<div class="c d" style="left:378px;top:832.05px;width:62px;height:36.44px;background:#a84c7b"><span>XL</span></div>
<div class="c d" style="left:440px;top:832.05px;width:61px;height:36.44px;background:#a84c7b"><span>XL</span></div>
<div class="c d" style="left:501px;top:832.05px;width:63px;height:36.44px;background:#a84c7b"><span>XL</span></div>
<div class="c d" style="left:564px;top:832.05px;width:63px;height:36.44px;background:#a84c7b"><span>XL</span></div>
<div class="c d" style="left:627px;top:832.05px;width:62px;height:36.44px;background:#a84c7b"><span>XL</span></div>
<div class="c d" style="left:689px;top:832.05px;width:60px;height:36.44px;background:#a84c7b"><span>XL</span></div>
<div class="c d" style="left:749px;top:832.05px;width:63.5px;height:36.44px;background:#a84c7b"><span>XL</span></div>
<div class="c d" style="left:812.5px;top:832.05px;width:62.5px;height:36.44px;background:#a84c7b"><span>XL</span></div>
<div class="c d" style="left:875px;top:832.05px;width:62px;height:36.44px;background:#a84c7b"><span>XL</span></div>
<div class="c d" style="left:937px;top:832.05px;width:63px;height:36.44px;background:#a84c7b"><span>XL</span></div>
<div class="c d" style="left:1000px;top:832.05px;width:61px;height:36.44px;background:#a84c7b"><span>XL</span></div>
<div class="c d" style="left:1061px;top:832.05px;width:63px;height:36.44px;background:#eb963f"><span>2XL</span></div>
<div class="c d" style="left:1124px;top:832.05px;width:63.5px;height:36.44px;background:#ffffff"></div>
<div class="c d" style="left:1187.5px;top:832.05px;width:61px;height:36.44px;background:#ffffff"></div>
<div class="c w" style="left:42.75px;top:868.49px;width:84.75px;height:36.44px;background:#c9daf8"><span>200 lbs</span></div>
<div class="c d" style="left:127.5px;top:868.49px;width:62.5px;height:36.44px;background:#ffffff"></div>
<div class="c d" style="left:190px;top:868.49px;width:61.5px;height:36.44px;background:#ffffff"></div>
<div class="c d" style="left:251.5px;top:868.49px;width:63.5px;height:36.44px;background:#a84c7b"><span>XL</span></div>
<div class="c d" style="left:315px;top:868.49px;width:63px;height:36.44px;background:#a84c7b"><span>XL</span></div>
<div class="c d" style="left:378px;top:868.49px;width:62px;height:36.44px;background:#a84c7b"><span>XL</span></div>
<div class="c d" style="left:440px;top:868.49px;width:61px;height:36.44px;background:#a84c7b"><span>XL</span></div>
<div class="c d" style="left:501px;top:868.49px;width:63px;height:36.44px;background:#a84c7b"><span>XL</span></div>
<div class="c d" style="left:564px;top:868.49px;width:63px;height:36.44px;background:#a84c7b"><span>XL</span></div>
<div class="c d" style="left:627px;top:868.49px;width:62px;height:36.44px;background:#a84c7b"><span>XL</span></div>
<div class="c d" style="left:689px;top:868.49px;width:60px;height:36.44px;background:#a84c7b"><span>XL</span></div>
<div class="c d" style="left:749px;top:868.49px;width:63.5px;height:36.44px;background:#a84c7b"><span>XL</span></div>
<div class="c d" style="left:812.5px;top:868.49px;width:62.5px;height:36.44px;background:#a84c7b"><span>XL</span></div>
<div class="c d" style="left:875px;top:868.49px;width:62px;height:36.44px;background:#a84c7b"><span>XL</span></div>
<div class="c d" style="left:937px;top:868.49px;width:63px;height:36.44px;background:#a84c7b"><span>XL</span></div>
<div class="c d" style="left:1000px;top:868.49px;width:61px;height:36.44px;background:#eb963f"><span>2XL</span></div>
<div class="c d" style="left:1061px;top:868.49px;width:63px;height:36.44px;background:#eb963f"><span>2XL</span></div>
<div class="c d" style="left:1124px;top:868.49px;width:63.5px;height:36.44px;background:#eb963f"><span>2XL</span></div>
<div class="c d" style="left:1187.5px;top:868.49px;width:61px;height:36.44px;background:#eb963f"><span>2XL</span></div>
<div class="c w" style="left:42.75px;top:904.93px;width:84.75px;height:36.44px;background:#c9daf8"><span>205 lbs</span></div>
<div class="c d" style="left:127.5px;top:904.93px;width:62.5px;height:36.44px;background:#ffffff"></div>
<div class="c d" style="left:190px;top:904.93px;width:61.5px;height:36.44px;background:#ffffff"></div>
<div class="c d" style="left:251.5px;top:904.93px;width:63.5px;height:36.44px;background:#a84c7b"><span>XL</span></div>
<div class="c d" style="left:315px;top:904.93px;width:63px;height:36.44px;background:#a84c7b"><span>XL</span></div>
<div class="c d" style="left:378px;top:904.93px;width:62px;height:36.44px;background:#a84c7b"><span>XL</span></div>
<div class="c d" style="left:440px;top:904.93px;width:61px;height:36.44px;background:#a84c7b"><span>XL</span></div>
<div class="c d" style="left:501px;top:904.93px;width:63px;height:36.44px;background:#a84c7b"><span>XL</span></div>
<div class="c d" style="left:564px;top:904.93px;width:63px;height:36.44px;background:#a84c7b"><span>XL</span></div>
<div class="c d" style="left:627px;top:904.93px;width:62px;height:36.44px;background:#a84c7b"><span>XL</span></div>
<div class="c d" style="left:689px;top:904.93px;width:60px;height:36.44px;background:#a84c7b"><span>XL</span></div>
<div class="c d" style="left:749px;top:904.93px;width:63.5px;height:36.44px;background:#a84c7b"><span>XL</span></div>
<div class="c d" style="left:812.5px;top:904.93px;width:62.5px;height:36.44px;background:#a84c7b"><span>XL</span></div>
<div class="c d" style="left:875px;top:904.93px;width:62px;height:36.44px;background:#a84c7b"><span>XL</span></div>
<div class="c d" style="left:937px;top:904.93px;width:63px;height:36.44px;background:#eb963f"><span>2XL</span></div>
<div class="c d" style="left:1000px;top:904.93px;width:61px;height:36.44px;background:#eb963f"><span>2XL</span></div>
<div class="c d" style="left:1061px;top:904.93px;width:63px;height:36.44px;background:#eb963f"><span>2XL</span></div>
<div class="c d" style="left:1124px;top:904.93px;width:63.5px;height:36.44px;background:#eb963f"><span>2XL</span></div>
<div class="c d" style="left:1187.5px;top:904.93px;width:61px;height:36.44px;background:#eb963f"><span>2XL</span></div>
<div class="c w" style="left:42.75px;top:941.36px;width:84.75px;height:36.44px;background:#c9daf8"><span>2<i class="one"></i>0 lbs</span></div>
<div class="c d" style="left:127.5px;top:941.36px;width:62.5px;height:36.44px;background:#ffffff"></div>
<div class="c d" style="left:190px;top:941.36px;width:61.5px;height:36.44px;background:#ffffff"></div>
<div class="c d" style="left:251.5px;top:941.36px;width:63.5px;height:36.44px;background:#a84c7b"><span>XL</span></div>
<div class="c d" style="left:315px;top:941.36px;width:63px;height:36.44px;background:#a84c7b"><span>XL</span></div>
<div class="c d" style="left:378px;top:941.36px;width:62px;height:36.44px;background:#a84c7b"><span>XL</span></div>
<div class="c d" style="left:440px;top:941.36px;width:61px;height:36.44px;background:#a84c7b"><span>XL</span></div>
<div class="c d" style="left:501px;top:941.36px;width:63px;height:36.44px;background:#a84c7b"><span>XL</span></div>
<div class="c d" style="left:564px;top:941.36px;width:63px;height:36.44px;background:#a84c7b"><span>XL</span></div>
<div class="c d" style="left:627px;top:941.36px;width:62px;height:36.44px;background:#eb963f"><span>2XL</span></div>
<div class="c d" style="left:689px;top:941.36px;width:60px;height:36.44px;background:#eb963f"><span>2XL</span></div>
<div class="c d" style="left:749px;top:941.36px;width:63.5px;height:36.44px;background:#eb963f"><span>2XL</span></div>
<div class="c d" style="left:812.5px;top:941.36px;width:62.5px;height:36.44px;background:#eb963f"><span>2XL</span></div>
<div class="c d" style="left:875px;top:941.36px;width:62px;height:36.44px;background:#eb963f"><span>2XL</span></div>
<div class="c d" style="left:937px;top:941.36px;width:63px;height:36.44px;background:#eb963f"><span>2XL</span></div>
<div class="c d" style="left:1000px;top:941.36px;width:61px;height:36.44px;background:#eb963f"><span>2XL</span></div>
<div class="c d" style="left:1061px;top:941.36px;width:63px;height:36.44px;background:#eb963f"><span>2XL</span></div>
<div class="c d" style="left:1124px;top:941.36px;width:63.5px;height:36.44px;background:#eb963f"><span>2XL</span></div>
<div class="c d" style="left:1187.5px;top:941.36px;width:61px;height:36.44px;background:#eb963f"><span>2XL</span></div>
<div class="c w" style="left:42.75px;top:977.8px;width:84.75px;height:36.44px;background:#c9daf8"><span>2<i class="one"></i>5 lbs</span></div>
<div class="c d" style="left:127.5px;top:977.8px;width:62.5px;height:36.44px;background:#ffffff"></div>
<div class="c d" style="left:190px;top:977.8px;width:61.5px;height:36.44px;background:#ffffff"></div>
<div class="c d" style="left:251.5px;top:977.8px;width:63.5px;height:36.44px;background:#ffffff"></div>
<div class="c d" style="left:315px;top:977.8px;width:63px;height:36.44px;background:#ffffff"></div>
<div class="c d" style="left:378px;top:977.8px;width:62px;height:36.44px;background:#ffffff"></div>
<div class="c d" style="left:440px;top:977.8px;width:61px;height:36.44px;background:#ffffff"></div>
<div class="c d" style="left:501px;top:977.8px;width:63px;height:36.44px;background:#ffffff"></div>
<div class="c d" style="left:564px;top:977.8px;width:63px;height:36.44px;background:#ffffff"></div>
<div class="c d" style="left:627px;top:977.8px;width:62px;height:36.44px;background:#eb963f"><span>2XL</span></div>
<div class="c d" style="left:689px;top:977.8px;width:60px;height:36.44px;background:#eb963f"><span>2XL</span></div>
<div class="c d" style="left:749px;top:977.8px;width:63.5px;height:36.44px;background:#eb963f"><span>2XL</span></div>
<div class="c d" style="left:812.5px;top:977.8px;width:62.5px;height:36.44px;background:#eb963f"><span>2XL</span></div>
<div class="c d" style="left:875px;top:977.8px;width:62px;height:36.44px;background:#eb963f"><span>2XL</span></div>
<div class="c d" style="left:937px;top:977.8px;width:63px;height:36.44px;background:#eb963f"><span>2XL</span></div>
<div class="c d" style="left:1000px;top:977.8px;width:61px;height:36.44px;background:#eb963f"><span>2XL</span></div>
<div class="c d" style="left:1061px;top:977.8px;width:63px;height:36.44px;background:#eb963f"><span>2XL</span></div>
<div class="c d" style="left:1124px;top:977.8px;width:63.5px;height:36.44px;background:#eb963f"><span>2XL</span></div>
<div class="c d" style="left:1187.5px;top:977.8px;width:61px;height:36.44px;background:#eb963f"><span>2XL</span></div>
<div class="c w" style="left:42.75px;top:1014.24px;width:84.75px;height:36.44px;background:#c9daf8"><span>220 lbs</span></div>
<div class="c d" style="left:127.5px;top:1014.24px;width:62.5px;height:36.44px;background:#ffffff"></div>
<div class="c d" style="left:190px;top:1014.24px;width:61.5px;height:36.44px;background:#ffffff"></div>
<div class="c d" style="left:251.5px;top:1014.24px;width:63.5px;height:36.44px;background:#ffffff"></div>
<div class="c d" style="left:315px;top:1014.24px;width:63px;height:36.44px;background:#ffffff"></div>
<div class="c d" style="left:378px;top:1014.24px;width:62px;height:36.44px;background:#ffffff"></div>
<div class="c d" style="left:440px;top:1014.24px;width:61px;height:36.44px;background:#ffffff"></div>
<div class="c d" style="left:501px;top:1014.24px;width:63px;height:36.44px;background:#ffffff"></div>
<div class="c d" style="left:564px;top:1014.24px;width:63px;height:36.44px;background:#ffffff"></div>
<div class="c d" style="left:627px;top:1014.24px;width:62px;height:36.44px;background:#eb963f"><span>2XL</span></div>
<div class="c d" style="left:689px;top:1014.24px;width:60px;height:36.44px;background:#eb963f"><span>2XL</span></div>
<div class="c d" style="left:749px;top:1014.24px;width:63.5px;height:36.44px;background:#eb963f"><span>2XL</span></div>
<div class="c d" style="left:812.5px;top:1014.24px;width:62.5px;height:36.44px;background:#eb963f"><span>2XL</span></div>
<div class="c d" style="left:875px;top:1014.24px;width:62px;height:36.44px;background:#eb963f"><span>2XL</span></div>
<div class="c d" style="left:937px;top:1014.24px;width:63px;height:36.44px;background:#eb963f"><span>2XL</span></div>
<div class="c d" style="left:1000px;top:1014.24px;width:61px;height:36.44px;background:#eb963f"><span>2XL</span></div>
<div class="c d" style="left:1061px;top:1014.24px;width:63px;height:36.44px;background:#eb963f"><span>2XL</span></div>
<div class="c d" style="left:1124px;top:1014.24px;width:63.5px;height:36.44px;background:#eb963f"><span>2XL</span></div>
<div class="c d" style="left:1187.5px;top:1014.24px;width:61px;height:36.44px;background:#eb963f"><span>2XL</span></div>
<div class="c w" style="left:42.75px;top:1050.67px;width:84.75px;height:36.44px;background:#c9daf8"><span>225 lbs</span></div>
<div class="c d" style="left:127.5px;top:1050.67px;width:62.5px;height:36.44px;background:#ffffff"></div>
<div class="c d" style="left:190px;top:1050.67px;width:61.5px;height:36.44px;background:#ffffff"></div>
<div class="c d" style="left:251.5px;top:1050.67px;width:63.5px;height:36.44px;background:#ffffff"></div>
<div class="c d" style="left:315px;top:1050.67px;width:63px;height:36.44px;background:#ffffff"></div>
<div class="c d" style="left:378px;top:1050.67px;width:62px;height:36.44px;background:#ffffff"></div>
<div class="c d" style="left:440px;top:1050.67px;width:61px;height:36.44px;background:#ffffff"></div>
<div class="c d" style="left:501px;top:1050.67px;width:63px;height:36.44px;background:#ffffff"></div>
<div class="c d" style="left:564px;top:1050.67px;width:63px;height:36.44px;background:#ffffff"></div>
<div class="c d" style="left:627px;top:1050.67px;width:62px;height:36.44px;background:#eb963f"><span>2XL</span></div>
<div class="c d" style="left:689px;top:1050.67px;width:60px;height:36.44px;background:#eb963f"><span>2XL</span></div>
<div class="c d" style="left:749px;top:1050.67px;width:63.5px;height:36.44px;background:#eb963f"><span>2XL</span></div>
<div class="c d" style="left:812.5px;top:1050.67px;width:62.5px;height:36.44px;background:#eb963f"><span>2XL</span></div>
<div class="c d" style="left:875px;top:1050.67px;width:62px;height:36.44px;background:#eb963f"><span>2XL</span></div>
<div class="c d" style="left:937px;top:1050.67px;width:63px;height:36.44px;background:#eb963f"><span>2XL</span></div>
<div class="c d" style="left:1000px;top:1050.67px;width:61px;height:36.44px;background:#eb963f"><span>2XL</span></div>
<div class="c d" style="left:1061px;top:1050.67px;width:63px;height:36.44px;background:#eb963f"><span>2XL</span></div>
<div class="c d" style="left:1124px;top:1050.67px;width:63.5px;height:36.44px;background:#eb963f"><span>2XL</span></div>
<div class="c d" style="left:1187.5px;top:1050.67px;width:61px;height:36.44px;background:#eb963f"><span>2XL</span></div>
<div class="c w" style="left:42.75px;top:1087.11px;width:84.75px;height:36.44px;background:#c9daf8"><span>230 lbs</span></div>
<div class="c d" style="left:127.5px;top:1087.11px;width:62.5px;height:36.44px;background:#ffffff"></div>
<div class="c d" style="left:190px;top:1087.11px;width:61.5px;height:36.44px;background:#ffffff"></div>
<div class="c d" style="left:251.5px;top:1087.11px;width:63.5px;height:36.44px;background:#ffffff"></div>
<div class="c d" style="left:315px;top:1087.11px;width:63px;height:36.44px;background:#ffffff"></div>
<div class="c d" style="left:378px;top:1087.11px;width:62px;height:36.44px;background:#ffffff"></div>
<div class="c d" style="left:440px;top:1087.11px;width:61px;height:36.44px;background:#ffffff"></div>
<div class="c d" style="left:501px;top:1087.11px;width:63px;height:36.44px;background:#ffffff"></div>
<div class="c d" style="left:564px;top:1087.11px;width:63px;height:36.44px;background:#ffffff"></div>
<div class="c d" style="left:627px;top:1087.11px;width:62px;height:36.44px;background:#ffffff"></div>
<div class="c d" style="left:689px;top:1087.11px;width:60px;height:36.44px;background:#eb963f"><span>2XL</span></div>
<div class="c d" style="left:749px;top:1087.11px;width:63.5px;height:36.44px;background:#eb963f"><span>2XL</span></div>
<div class="c d" style="left:812.5px;top:1087.11px;width:62.5px;height:36.44px;background:#eb963f"><span>2XL</span></div>
<div class="c d" style="left:875px;top:1087.11px;width:62px;height:36.44px;background:#eb963f"><span>2XL</span></div>
<div class="c d" style="left:937px;top:1087.11px;width:63px;height:36.44px;background:#eb963f"><span>2XL</span></div>
<div class="c d" style="left:1000px;top:1087.11px;width:61px;height:36.44px;background:#eb963f"><span>2XL</span></div>
<div class="c d" style="left:1061px;top:1087.11px;width:63px;height:36.44px;background:#eb963f"><span>2XL</span></div>
<div class="c d" style="left:1124px;top:1087.11px;width:63.5px;height:36.44px;background:#eb963f"><span>2XL</span></div>
<div class="c d" style="left:1187.5px;top:1087.11px;width:61px;height:36.44px;background:#eb963f"><span>2XL</span></div>
<div class="c w" style="left:42.75px;top:1123.55px;width:84.75px;height:36.44px;background:#c9daf8"><span>235 lbs</span></div>
<div class="c d" style="left:127.5px;top:1123.55px;width:62.5px;height:36.44px;background:#ffffff"></div>
<div class="c d" style="left:190px;top:1123.55px;width:61.5px;height:36.44px;background:#ffffff"></div>
<div class="c d" style="left:251.5px;top:1123.55px;width:63.5px;height:36.44px;background:#ffffff"></div>
<div class="c d" style="left:315px;top:1123.55px;width:63px;height:36.44px;background:#ffffff"></div>
<div class="c d" style="left:378px;top:1123.55px;width:62px;height:36.44px;background:#ffffff"></div>
<div class="c d" style="left:440px;top:1123.55px;width:61px;height:36.44px;background:#ffffff"></div>
<div class="c d" style="left:501px;top:1123.55px;width:63px;height:36.44px;background:#ffffff"></div>
<div class="c d" style="left:564px;top:1123.55px;width:63px;height:36.44px;background:#ffffff"></div>
<div class="c d" style="left:627px;top:1123.55px;width:62px;height:36.44px;background:#ffffff"></div>
<div class="c d" style="left:689px;top:1123.55px;width:60px;height:36.44px;background:#eb963f"><span>2XL</span></div>
<div class="c d" style="left:749px;top:1123.55px;width:63.5px;height:36.44px;background:#eb963f"><span>2XL</span></div>
<div class="c d" style="left:812.5px;top:1123.55px;width:62.5px;height:36.44px;background:#eb963f"><span>2XL</span></div>
<div class="c d" style="left:875px;top:1123.55px;width:62px;height:36.44px;background:#eb963f"><span>2XL</span></div>
<div class="c d" style="left:937px;top:1123.55px;width:63px;height:36.44px;background:#eb963f"><span>2XL</span></div>
<div class="c d" style="left:1000px;top:1123.55px;width:61px;height:36.44px;background:#eb963f"><span>2XL</span></div>
<div class="c d" style="left:1061px;top:1123.55px;width:63px;height:36.44px;background:#eb963f"><span>2XL</span></div>
<div class="c d" style="left:1124px;top:1123.55px;width:63.5px;height:36.44px;background:#eb963f"><span>2XL</span></div>
<div class="c d" style="left:1187.5px;top:1123.55px;width:61px;height:36.44px;background:#eb963f"><span>2XL</span></div>
<div class="c w" style="left:42.75px;top:1159.98px;width:84.75px;height:36.44px;background:#c9daf8"><span>240 lbs</span></div>
<div class="c d" style="left:127.5px;top:1159.98px;width:62.5px;height:36.44px;background:#ffffff"></div>
<div class="c d" style="left:190px;top:1159.98px;width:61.5px;height:36.44px;background:#ffffff"></div>
<div class="c d" style="left:251.5px;top:1159.98px;width:63.5px;height:36.44px;background:#ffffff"></div>
<div class="c d" style="left:315px;top:1159.98px;width:63px;height:36.44px;background:#ffffff"></div>
<div class="c d" style="left:378px;top:1159.98px;width:62px;height:36.44px;background:#ffffff"></div>
<div class="c d" style="left:440px;top:1159.98px;width:61px;height:36.44px;background:#ffffff"></div>
<div class="c d" style="left:501px;top:1159.98px;width:63px;height:36.44px;background:#ffffff"></div>
<div class="c d" style="left:564px;top:1159.98px;width:63px;height:36.44px;background:#ffffff"></div>
<div class="c d" style="left:627px;top:1159.98px;width:62px;height:36.44px;background:#ffffff"></div>
<div class="c d" style="left:689px;top:1159.98px;width:60px;height:36.44px;background:#eb963f"><span>2XL</span></div>
<div class="c d" style="left:749px;top:1159.98px;width:63.5px;height:36.44px;background:#eb963f"><span>2XL</span></div>
<div class="c d" style="left:812.5px;top:1159.98px;width:62.5px;height:36.44px;background:#eb963f"><span>2XL</span></div>
<div class="c d" style="left:875px;top:1159.98px;width:62px;height:36.44px;background:#eb963f"><span>2XL</span></div>
<div class="c d" style="left:937px;top:1159.98px;width:63px;height:36.44px;background:#eb963f"><span>2XL</span></div>
<div class="c d" style="left:1000px;top:1159.98px;width:61px;height:36.44px;background:#eb963f"><span>2XL</span></div>
<div class="c d" style="left:1061px;top:1159.98px;width:63px;height:36.44px;background:#eb963f"><span>2XL</span></div>
<div class="c d" style="left:1124px;top:1159.98px;width:63.5px;height:36.44px;background:#eb963f"><span>2XL</span></div>
<div class="c d" style="left:1187.5px;top:1159.98px;width:61px;height:36.44px;background:#eb963f"><span>2XL</span></div>
<div class="c w" style="left:42.75px;top:1196.42px;width:84.75px;height:36.44px;background:#c9daf8"><span>245 lbs</span></div>
<div class="c d" style="left:127.5px;top:1196.42px;width:62.5px;height:36.44px;background:#ffffff"></div>
<div class="c d" style="left:190px;top:1196.42px;width:61.5px;height:36.44px;background:#ffffff"></div>
<div class="c d" style="left:251.5px;top:1196.42px;width:63.5px;height:36.44px;background:#ffffff"></div>
<div class="c d" style="left:315px;top:1196.42px;width:63px;height:36.44px;background:#ffffff"></div>
<div class="c d" style="left:378px;top:1196.42px;width:62px;height:36.44px;background:#ffffff"></div>
<div class="c d" style="left:440px;top:1196.42px;width:61px;height:36.44px;background:#ffffff"></div>
<div class="c d" style="left:501px;top:1196.42px;width:63px;height:36.44px;background:#ffffff"></div>
<div class="c d" style="left:564px;top:1196.42px;width:63px;height:36.44px;background:#ffffff"></div>
<div class="c d" style="left:627px;top:1196.42px;width:62px;height:36.44px;background:#ffffff"></div>
<div class="c d" style="left:689px;top:1196.42px;width:60px;height:36.44px;background:#1ae6f2"><span>3XL</span></div>
<div class="c d" style="left:749px;top:1196.42px;width:63.5px;height:36.44px;background:#1ae6f2"><span>3XL</span></div>
<div class="c d" style="left:812.5px;top:1196.42px;width:62.5px;height:36.44px;background:#1ae6f2"><span>3XL</span></div>
<div class="c d" style="left:875px;top:1196.42px;width:62px;height:36.44px;background:#1ae6f2"><span>3XL</span></div>
<div class="c d" style="left:937px;top:1196.42px;width:63px;height:36.44px;background:#1ae6f2"><span>3XL</span></div>
<div class="c d" style="left:1000px;top:1196.42px;width:61px;height:36.44px;background:#1ae6f2"><span>3XL</span></div>
<div class="c d" style="left:1061px;top:1196.42px;width:63px;height:36.44px;background:#1ae6f2"><span>3XL</span></div>
<div class="c d" style="left:1124px;top:1196.42px;width:63.5px;height:36.44px;background:#1ae6f2"><span>3XL</span></div>
<div class="c d" style="left:1187.5px;top:1196.42px;width:61px;height:36.44px;background:#1ae6f2"><span>3XL</span></div>
<div class="c w" style="left:42.75px;top:1232.85px;width:84.75px;height:36.44px;background:#c9daf8"><span>250 lbs</span></div>
<div class="c d" style="left:127.5px;top:1232.85px;width:62.5px;height:36.44px;background:#ffffff"></div>
<div class="c d" style="left:190px;top:1232.85px;width:61.5px;height:36.44px;background:#ffffff"></div>
<div class="c d" style="left:251.5px;top:1232.85px;width:63.5px;height:36.44px;background:#ffffff"></div>
<div class="c d" style="left:315px;top:1232.85px;width:63px;height:36.44px;background:#ffffff"></div>
<div class="c d" style="left:378px;top:1232.85px;width:62px;height:36.44px;background:#ffffff"></div>
<div class="c d" style="left:440px;top:1232.85px;width:61px;height:36.44px;background:#ffffff"></div>
<div class="c d" style="left:501px;top:1232.85px;width:63px;height:36.44px;background:#ffffff"></div>
<div class="c d" style="left:564px;top:1232.85px;width:63px;height:36.44px;background:#ffffff"></div>
<div class="c d" style="left:627px;top:1232.85px;width:62px;height:36.44px;background:#ffffff"></div>
<div class="c d" style="left:689px;top:1232.85px;width:60px;height:36.44px;background:#1ae6f2"><span>3XL</span></div>
<div class="c d" style="left:749px;top:1232.85px;width:63.5px;height:36.44px;background:#1ae6f2"><span>3XL</span></div>
<div class="c d" style="left:812.5px;top:1232.85px;width:62.5px;height:36.44px;background:#1ae6f2"><span>3XL</span></div>
<div class="c d" style="left:875px;top:1232.85px;width:62px;height:36.44px;background:#1ae6f2"><span>3XL</span></div>
<div class="c d" style="left:937px;top:1232.85px;width:63px;height:36.44px;background:#1ae6f2"><span>3XL</span></div>
<div class="c d" style="left:1000px;top:1232.85px;width:61px;height:36.44px;background:#1ae6f2"><span>3XL</span></div>
<div class="c d" style="left:1061px;top:1232.85px;width:63px;height:36.44px;background:#1ae6f2"><span>3XL</span></div>
<div class="c d" style="left:1124px;top:1232.85px;width:63.5px;height:36.44px;background:#1ae6f2"><span>3XL</span></div>
<div class="c d" style="left:1187.5px;top:1232.85px;width:61px;height:36.44px;background:#1ae6f2"><span>3XL</span></div>
<div class="c w" style="left:42.75px;top:1269.29px;width:84.75px;height:36.44px;background:#c9daf8"><span>255 lbs</span></div>
<div class="c d" style="left:127.5px;top:1269.29px;width:62.5px;height:36.44px;background:#ffffff"></div>
<div class="c d" style="left:190px;top:1269.29px;width:61.5px;height:36.44px;background:#ffffff"></div>
<div class="c d" style="left:251.5px;top:1269.29px;width:63.5px;height:36.44px;background:#ffffff"></div>
<div class="c d" style="left:315px;top:1269.29px;width:63px;height:36.44px;background:#ffffff"></div>
<div class="c d" style="left:378px;top:1269.29px;width:62px;height:36.44px;background:#ffffff"></div>
<div class="c d" style="left:440px;top:1269.29px;width:61px;height:36.44px;background:#ffffff"></div>
<div class="c d" style="left:501px;top:1269.29px;width:63px;height:36.44px;background:#ffffff"></div>
<div class="c d" style="left:564px;top:1269.29px;width:63px;height:36.44px;background:#ffffff"></div>
<div class="c d" style="left:627px;top:1269.29px;width:62px;height:36.44px;background:#ffffff"></div>
<div class="c d" style="left:689px;top:1269.29px;width:60px;height:36.44px;background:#1ae6f2"><span>3XL</span></div>
<div class="c d" style="left:749px;top:1269.29px;width:63.5px;height:36.44px;background:#1ae6f2"><span>3XL</span></div>
<div class="c d" style="left:812.5px;top:1269.29px;width:62.5px;height:36.44px;background:#1ae6f2"><span>3XL</span></div>
<div class="c d" style="left:875px;top:1269.29px;width:62px;height:36.44px;background:#1ae6f2"><span>3XL</span></div>
<div class="c d" style="left:937px;top:1269.29px;width:63px;height:36.44px;background:#1ae6f2"><span>3XL</span></div>
<div class="c d" style="left:1000px;top:1269.29px;width:61px;height:36.44px;background:#1ae6f2"><span>3XL</span></div>
<div class="c d" style="left:1061px;top:1269.29px;width:63px;height:36.44px;background:#1ae6f2"><span>3XL</span></div>
<div class="c d" style="left:1124px;top:1269.29px;width:63.5px;height:36.44px;background:#1ae6f2"><span>3XL</span></div>
<div class="c d" style="left:1187.5px;top:1269.29px;width:61px;height:36.44px;background:#1ae6f2"><span>3XL</span></div>
<div class="c w" style="left:42.75px;top:1305.73px;width:84.75px;height:36.44px;background:#c9daf8"><span>260 lbs</span></div>
<div class="c d" style="left:127.5px;top:1305.73px;width:62.5px;height:36.44px;background:#ffffff"></div>
<div class="c d" style="left:190px;top:1305.73px;width:61.5px;height:36.44px;background:#ffffff"></div>
<div class="c d" style="left:251.5px;top:1305.73px;width:63.5px;height:36.44px;background:#ffffff"></div>
<div class="c d" style="left:315px;top:1305.73px;width:63px;height:36.44px;background:#ffffff"></div>
<div class="c d" style="left:378px;top:1305.73px;width:62px;height:36.44px;background:#ffffff"></div>
<div class="c d" style="left:440px;top:1305.73px;width:61px;height:36.44px;background:#ffffff"></div>
<div class="c d" style="left:501px;top:1305.73px;width:63px;height:36.44px;background:#ffffff"></div>
<div class="c d" style="left:564px;top:1305.73px;width:63px;height:36.44px;background:#ffffff"></div>
<div class="c d" style="left:627px;top:1305.73px;width:62px;height:36.44px;background:#ffffff"></div>
<div class="c d" style="left:689px;top:1305.73px;width:60px;height:36.44px;background:#1ae6f2"><span>3XL</span></div>
<div class="c d" style="left:749px;top:1305.73px;width:63.5px;height:36.44px;background:#1ae6f2"><span>3XL</span></div>
<div class="c d" style="left:812.5px;top:1305.73px;width:62.5px;height:36.44px;background:#1ae6f2"><span>3XL</span></div>
<div class="c d" style="left:875px;top:1305.73px;width:62px;height:36.44px;background:#1ae6f2"><span>3XL</span></div>
<div class="c d" style="left:937px;top:1305.73px;width:63px;height:36.44px;background:#1ae6f2"><span>3XL</span></div>
<div class="c d" style="left:1000px;top:1305.73px;width:61px;height:36.44px;background:#1ae6f2"><span>3XL</span></div>
<div class="c d" style="left:1061px;top:1305.73px;width:63px;height:36.44px;background:#1ae6f2"><span>3XL</span></div>
<div class="c d" style="left:1124px;top:1305.73px;width:63.5px;height:36.44px;background:#1ae6f2"><span>3XL</span></div>
<div class="c d" style="left:1187.5px;top:1305.73px;width:61px;height:36.44px;background:#1ae6f2"><span>3XL</span></div>
<div class="c w" style="left:42.75px;top:1342.16px;width:84.75px;height:36.44px;background:#c9daf8"><span>265 lbs</span></div>
<div class="c d" style="left:127.5px;top:1342.16px;width:62.5px;height:36.44px;background:#ffffff"></div>
<div class="c d" style="left:190px;top:1342.16px;width:61.5px;height:36.44px;background:#ffffff"></div>
<div class="c d" style="left:251.5px;top:1342.16px;width:63.5px;height:36.44px;background:#ffffff"></div>
<div class="c d" style="left:315px;top:1342.16px;width:63px;height:36.44px;background:#ffffff"></div>
<div class="c d" style="left:378px;top:1342.16px;width:62px;height:36.44px;background:#ffffff"></div>
<div class="c d" style="left:440px;top:1342.16px;width:61px;height:36.44px;background:#ffffff"></div>
<div class="c d" style="left:501px;top:1342.16px;width:63px;height:36.44px;background:#ffffff"></div>
<div class="c d" style="left:564px;top:1342.16px;width:63px;height:36.44px;background:#ffffff"></div>
<div class="c d" style="left:627px;top:1342.16px;width:62px;height:36.44px;background:#ffffff"></div>
<div class="c d" style="left:689px;top:1342.16px;width:60px;height:36.44px;background:#1ae6f2"><span>3XL</span></div>
<div class="c d" style="left:749px;top:1342.16px;width:63.5px;height:36.44px;background:#1ae6f2"><span>3XL</span></div>
<div class="c d" style="left:812.5px;top:1342.16px;width:62.5px;height:36.44px;background:#1ae6f2"><span>3XL</span></div>
<div class="c d" style="left:875px;top:1342.16px;width:62px;height:36.44px;background:#1ae6f2"><span>3XL</span></div>
<div class="c d" style="left:937px;top:1342.16px;width:63px;height:36.44px;background:#1ae6f2"><span>3XL</span></div>
<div class="c d" style="left:1000px;top:1342.16px;width:61px;height:36.44px;background:#1ae6f2"><span>3XL</span></div>
<div class="c d" style="left:1061px;top:1342.16px;width:63px;height:36.44px;background:#1ae6f2"><span>3XL</span></div>
<div class="c d" style="left:1124px;top:1342.16px;width:63.5px;height:36.44px;background:#1ae6f2"><span>3XL</span></div>
<div class="c d" style="left:1187.5px;top:1342.16px;width:61px;height:36.44px;background:#1ae6f2"><span>3XL</span></div>
<div class="lv" style="left:40.95px;top:136.9px;height:1243.5px"></div>
<div class="lv" style="left:125.7px;top:136.9px;height:1243.5px"></div>
<div class="lv" style="left:188.2px;top:136.9px;height:1243.5px"></div>
<div class="lv" style="left:249.7px;top:136.9px;height:1243.5px"></div>
<div class="lv" style="left:313.2px;top:136.9px;height:1243.5px"></div>
<div class="lv" style="left:376.2px;top:136.9px;height:1243.5px"></div>
<div class="lv" style="left:438.2px;top:136.9px;height:1243.5px"></div>
<div class="lv" style="left:499.2px;top:136.9px;height:1243.5px"></div>
<div class="lv" style="left:562.2px;top:136.9px;height:1243.5px"></div>
<div class="lv" style="left:625.2px;top:136.9px;height:1243.5px"></div>
<div class="lv" style="left:687.2px;top:136.9px;height:1243.5px"></div>
<div class="lv" style="left:747.2px;top:136.9px;height:1243.5px"></div>
<div class="lv" style="left:810.7px;top:136.9px;height:1243.5px"></div>
<div class="lv" style="left:873.2px;top:136.9px;height:1243.5px"></div>
<div class="lv" style="left:935.2px;top:136.9px;height:1243.5px"></div>
<div class="lv" style="left:998.2px;top:136.9px;height:1243.5px"></div>
<div class="lv" style="left:1059.2px;top:136.9px;height:1243.5px"></div>
<div class="lv" style="left:1122.2px;top:136.9px;height:1243.5px"></div>
<div class="lv" style="left:1185.7px;top:136.9px;height:1243.5px"></div>
<div class="lv" style="left:1246.7px;top:136.9px;height:1243.5px"></div>
<div class="lh" style="left:40.95px;top:136.9px;width:1209.35px"></div>
<div class="lh" style="left:40.95px;top:174.4px;width:1209.35px"></div>
<div class="lh" style="left:40.95px;top:210.84px;width:1209.35px"></div>
<div class="lh" style="left:40.95px;top:247.27px;width:1209.35px"></div>
<div class="lh" style="left:40.95px;top:283.71px;width:1209.35px"></div>
<div class="lh" style="left:40.95px;top:320.15px;width:1209.35px"></div>
<div class="lh" style="left:40.95px;top:356.58px;width:1209.35px"></div>
<div class="lh" style="left:40.95px;top:393.02px;width:1209.35px"></div>
<div class="lh" style="left:40.95px;top:429.45px;width:1209.35px"></div>
<div class="lh" style="left:40.95px;top:465.89px;width:1209.35px"></div>
<div class="lh" style="left:40.95px;top:502.33px;width:1209.35px"></div>
<div class="lh" style="left:40.95px;top:538.76px;width:1209.35px"></div>
<div class="lh" style="left:40.95px;top:575.2px;width:1209.35px"></div>
<div class="lh" style="left:40.95px;top:611.64px;width:1209.35px"></div>
<div class="lh" style="left:40.95px;top:648.07px;width:1209.35px"></div>
<div class="lh" style="left:40.95px;top:684.51px;width:1209.35px"></div>
<div class="lh" style="left:40.95px;top:720.95px;width:1209.35px"></div>
<div class="lh" style="left:40.95px;top:757.38px;width:1209.35px"></div>
<div class="lh" style="left:40.95px;top:793.82px;width:1209.35px"></div>
<div class="lh" style="left:40.95px;top:830.25px;width:1209.35px"></div>
<div class="lh" style="left:40.95px;top:866.69px;width:1209.35px"></div>
<div class="lh" style="left:40.95px;top:903.13px;width:1209.35px"></div>
<div class="lh" style="left:40.95px;top:939.56px;width:1209.35px"></div>
<div class="lh" style="left:40.95px;top:976px;width:1209.35px"></div>
<div class="lh" style="left:40.95px;top:1012.44px;width:1209.35px"></div>
<div class="lh" style="left:40.95px;top:1048.87px;width:1209.35px"></div>
<div class="lh" style="left:40.95px;top:1085.31px;width:1209.35px"></div>
<div class="lh" style="left:40.95px;top:1121.75px;width:1209.35px"></div>
<div class="lh" style="left:40.95px;top:1158.18px;width:1209.35px"></div>
<div class="lh" style="left:40.95px;top:1194.62px;width:1209.35px"></div>
<div class="lh" style="left:40.95px;top:1231.05px;width:1209.35px"></div>
<div class="lh" style="left:40.95px;top:1267.49px;width:1209.35px"></div>
<div class="lh" style="left:40.95px;top:1303.93px;width:1209.35px"></div>
<div class="lh" style="left:40.95px;top:1340.36px;width:1209.35px"></div>
<div class="lh" style="left:40.95px;top:1376.8px;width:1209.35px;height:4.1px"></div>
<div class="t" id="f1" style="left:516px;top:1399.5px;font-size:40.5px;font-weight:bold;color:#0a0a0a;letter-spacing:-0.9px;transform:scaleX(0.9)">TRUE TO SIZE:</div>
<div class="t" id="f2" style="left:38px;top:1453px;font-size:30px;font-weight:bold;color:#0a0a0a;transform:scaleX(0.927)">This item fits true to size. If you are between sizes, we recommend sizing up for the best fit.</div>
</body></html>
